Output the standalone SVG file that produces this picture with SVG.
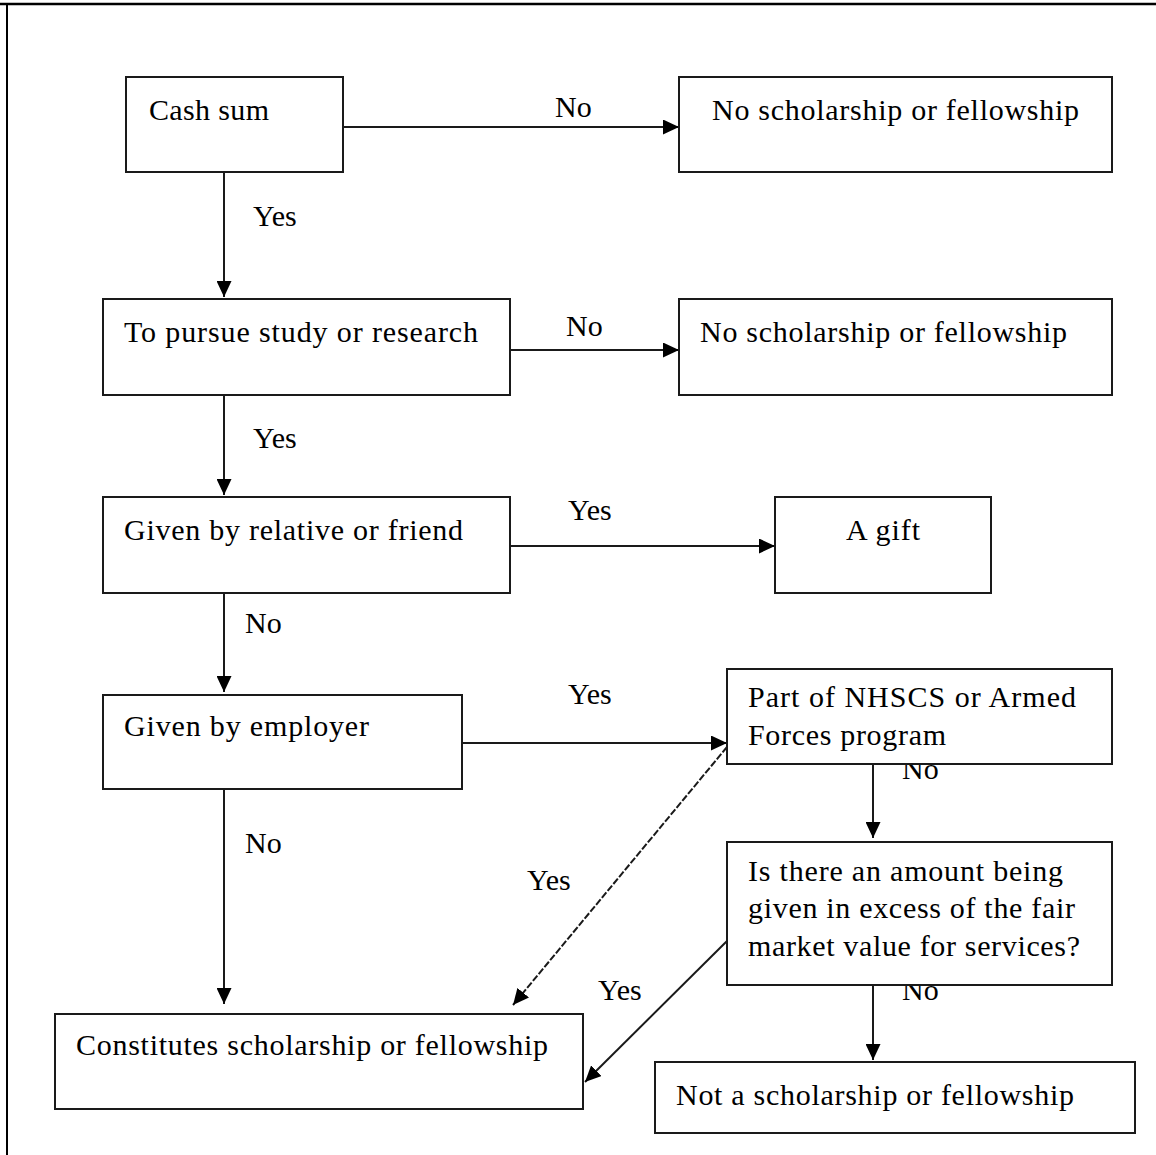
<svg xmlns="http://www.w3.org/2000/svg" width="1156" height="1155" viewBox="0 0 1156 1155">
<style>
text{font-family:"Liberation Serif","Times New Roman",serif;font-size:30px;fill:#000}
.box{fill:#fff;stroke:#1a1a1a;stroke-width:2}
.c{fill:none;stroke:#1a1a1a;stroke-width:2}
</style>
<defs>
<marker id="ah" markerUnits="userSpaceOnUse" markerWidth="17" markerHeight="15" refX="16" refY="7.5" orient="auto"><path d="M0,0 L16,7.5 L0,15 z" fill="#000"/></marker>
</defs>
<rect width="1156" height="1155" fill="#fff"/>
<g id="frame"><line x1="0" y1="4" x2="1156" y2="4" stroke="#000" stroke-width="2.5"/><line x1="7" y1="4" x2="7" y2="1155" stroke="#000" stroke-width="2"/></g>
<g id="connectors">
<line class="c" x1="343" y1="127" x2="679" y2="127" marker-end="url(#ah)"/>
<line class="c" x1="224" y1="172" x2="224" y2="297" marker-end="url(#ah)"/>
<line class="c" x1="510" y1="350" x2="679" y2="350" marker-end="url(#ah)"/>
<line class="c" x1="224" y1="395" x2="224" y2="495" marker-end="url(#ah)"/>
<line class="c" x1="510" y1="546" x2="775" y2="546" marker-end="url(#ah)"/>
<line class="c" x1="224" y1="593" x2="224" y2="692" marker-end="url(#ah)"/>
<line class="c" x1="462" y1="743" x2="727" y2="743" marker-end="url(#ah)"/>
<line class="c" x1="224" y1="789" x2="224" y2="1004" marker-end="url(#ah)"/>
<line class="c" x1="727" y1="747" x2="513" y2="1005" stroke-dasharray="7 2" marker-end="url(#ah)"/>
<line class="c" x1="873" y1="764" x2="873" y2="838" marker-end="url(#ah)"/>
<line class="c" x1="727" y1="941" x2="585" y2="1082" stroke-width="1.2" marker-end="url(#ah)"/>
<line class="c" x1="873" y1="985" x2="873" y2="1060" marker-end="url(#ah)"/>
<text x="555" y="117">No</text>
<text x="253" y="226">Yes</text>
<text x="566" y="336">No</text>
<text x="253" y="448">Yes</text>
<text x="568" y="520">Yes</text>
<text x="245" y="633">No</text>
<text x="568" y="704">Yes</text>
<text x="245" y="853">No</text>
<text x="527" y="890">Yes</text>
<text x="902" y="779">No</text>
<text x="598" y="1000">Yes</text>
<text x="902" y="1000">No</text>
</g>
<g id="cash"><rect class="box" x="126" y="77" width="217" height="95"/><text x="149" y="120" textLength="120">Cash sum</text></g>
<g id="no1"><rect class="box" x="679" y="77" width="433" height="95"/><text x="712" y="120" textLength="367">No scholarship or fellowship</text></g>
<g id="pursue"><rect class="box" x="103" y="299" width="407" height="96"/><text x="124" y="342" textLength="354">To pursue study or research</text></g>
<g id="no2"><rect class="box" x="679" y="299" width="433" height="96"/><text x="700" y="342" textLength="367">No scholarship or fellowship</text></g>
<g id="relative"><rect class="box" x="103" y="497" width="407" height="96"/><text x="124" y="540" textLength="339">Given by relative or friend</text></g>
<g id="gift"><rect class="box" x="775" y="497" width="216" height="96"/><text x="846" y="540" textLength="74">A gift</text></g>
<g id="employer"><rect class="box" x="103" y="695" width="359" height="94"/><text x="124" y="736" textLength="245">Given by employer</text></g>
<g id="nhscs"><rect class="box" x="727" y="669" width="385" height="95"/><text x="748" y="707" textLength="328">Part of NHSCS or Armed</text><text x="748" y="745" textLength="198">Forces program</text></g>
<g id="excess"><rect class="box" x="727" y="842" width="385" height="143"/><text x="748" y="881" textLength="315">Is there an amount being</text><text x="748" y="918" textLength="327">given in excess of the fair</text><text x="748" y="956" textLength="332">market value for services?</text></g>
<g id="constitutes"><rect class="box" x="55" y="1014" width="528" height="95"/><text x="76" y="1055" textLength="472">Constitutes scholarship or fellowship</text></g>
<g id="notsch"><rect class="box" x="655" y="1062" width="480" height="71"/><text x="676" y="1105" textLength="398">Not a scholarship or fellowship</text></g>
</svg>
